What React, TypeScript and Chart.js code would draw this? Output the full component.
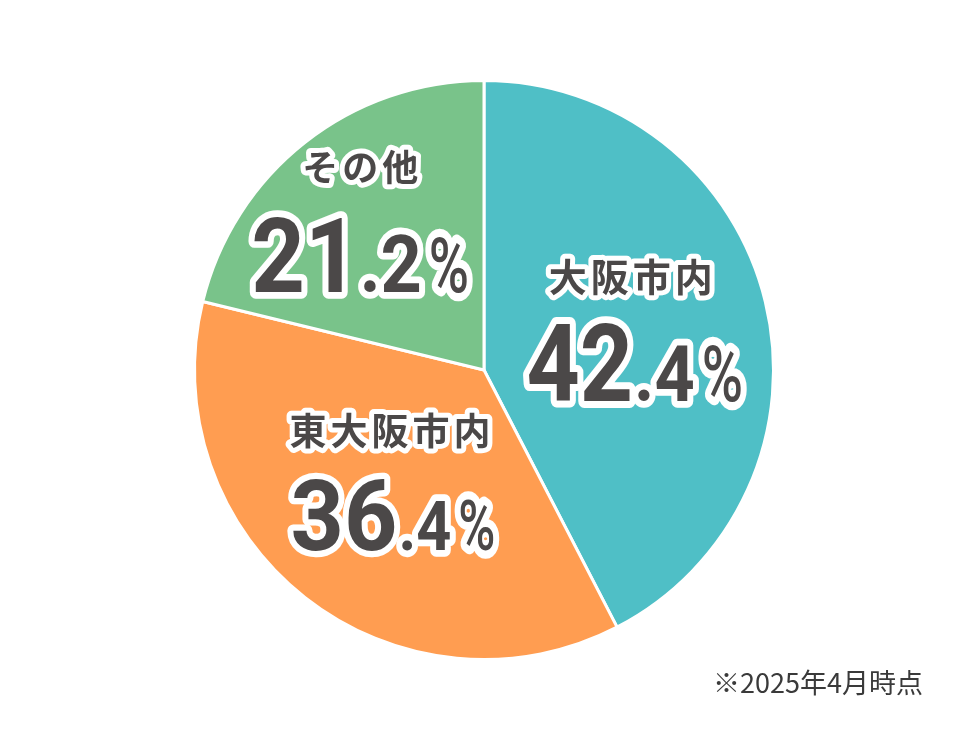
import React, { useEffect, useRef } from 'react';
import { Chart, registerables } from 'chart.js';

Chart.register(...registerables);

// ---- data ----
const categories = ['大阪市内', '東大阪市内', 'その他'];
const values = [42.4, 36.4, 21.2];
const note = '※2025年4月時点';

// ---- style ----
const colors = ['#4FBFC6', '#FF9D51', '#79C38A'];
const textColor = '#4B4848';
const labelRadiusFrac = [0.536, 0.509, 0.692];
const titleOffset = [[-4, -57], [-3, -55], [0, -45]];
const numberOffset = [[0, 68], [0, 64], [0, 80]];
const titleSize = [38, 37, 36];
const bigSize = [108, 98, 104];
const bigScale = [0.86, 0.95, 0.9];
const smallSize = [78, 68, 80];
const pctSize = [78, 70, 76];

const labelPlugin = {
  id: 'bigLabels',
  afterDatasetsDraw(chart: any) {
    const ctx: CanvasRenderingContext2D = chart.ctx;
    const meta = chart.getDatasetMeta(0);
    meta.data.forEach((arc: any, i: number) => {
      const { x, y, startAngle, endAngle, outerRadius } = arc.getProps(
        ['x', 'y', 'startAngle', 'endAngle', 'outerRadius'],
        true
      );
      const mid = (startAngle + endAngle) / 2;
      const r = outerRadius * labelRadiusFrac[i];
      const px = x + Math.cos(mid) * r;
      const py = y + Math.sin(mid) * r;

      ctx.save();
      ctx.lineJoin = 'round';
      ctx.miterLimit = 2;

      // title
      const tx = px + titleOffset[i][0];
      const ty = py + titleOffset[i][1];
      ctx.font = `700 ${titleSize[i]}px "Noto Sans CJK JP"`;
      const ls = 4;
      (ctx as any).letterSpacing = `${ls}px`;
      ctx.textAlign = 'left';
      ctx.textBaseline = 'middle';
      const tw = ctx.measureText(categories[i]).width - ls;
      ctx.strokeStyle = '#FFFFFF';
      ctx.lineWidth = 10;
      ctx.strokeText(categories[i], tx - tw / 2, ty);
      ctx.fillStyle = textColor;
      ctx.fillText(categories[i], tx - tw / 2, ty);
      (ctx as any).letterSpacing = '0px';

      // number
      const str = values[i].toFixed(1);
      const dot = str.indexOf('.');
      const parts = [
        { t: str.slice(0, dot), size: bigSize[i], weight: 700, sx: bigScale[i], gap: 0 },
        { t: str.slice(dot), size: smallSize[i], weight: 700, sx: 0.9, gap: 1 },
        { t: '%', size: pctSize[i], weight: 500, sx: 0.72, gap: 7 },
      ];
      ctx.textBaseline = 'alphabetic';
      let total = 0;
      const widths: number[] = [];
      parts.forEach((p) => {
        ctx.font = `${p.weight} ${p.size}px Roboto`;
        const w = ctx.measureText(p.t).width * p.sx;
        widths.push(w);
        total += w + p.gap;
      });
      const nx = px + numberOffset[i][0];
      const ny = py + numberOffset[i][1];
      const cx = nx - total / 2;
      for (const pass of ['stroke', 'fill']) {
        let xx = cx;
        parts.forEach((p, k) => {
          xx += p.gap;
          ctx.save();
          ctx.translate(xx, ny);
          ctx.scale(p.sx, 1);
          ctx.font = `${p.weight} ${p.size}px Roboto`;
          if (pass === 'stroke') {
            ctx.strokeStyle = '#FFFFFF';
            ctx.lineWidth = 12 / p.sx;
            ctx.strokeText(p.t, 0, 0);
          } else {
            ctx.fillStyle = textColor;
            ctx.fillText(p.t, 0, 0);
          }
          ctx.restore();
          xx += widths[k];
        });
      }
      ctx.restore();
    });
  },
};

export default function App() {
  const ref = useRef<HTMLCanvasElement>(null);
  useEffect(() => {
    if (!ref.current) return;
    const chart = new Chart(ref.current, {
      type: 'pie',
      data: {
        labels: categories,
        datasets: [
          {
            data: values,
            backgroundColor: colors,
            borderColor: '#FFFFFF',
            borderWidth: 3,
          },
        ],
      },
      options: {
        responsive: false,
        maintainAspectRatio: false,
        animation: false,
        layout: { padding: 79 },
        plugins: {
          legend: { display: false },
          tooltip: { enabled: false },
        },
      },
      plugins: [labelPlugin],
    });
    return () => chart.destroy();
  }, []);

  return (
    <div style={{ position: 'fixed', left: 0, top: 0, width: 968, height: 740, background: '#FFFFFF' }}>
      <canvas ref={ref} width={968} height={740} style={{ display: 'block' }} />
      <div
        style={{
          position: 'absolute',
          right: 45,
          top: 664,
          fontFamily: '"Noto Sans CJK JP"',
          fontSize: 27,
          lineHeight: '36px',
          color: '#3A3A3A',
          whiteSpace: 'nowrap',
        }}
      >
        {note}
      </div>
    </div>
  );
}
